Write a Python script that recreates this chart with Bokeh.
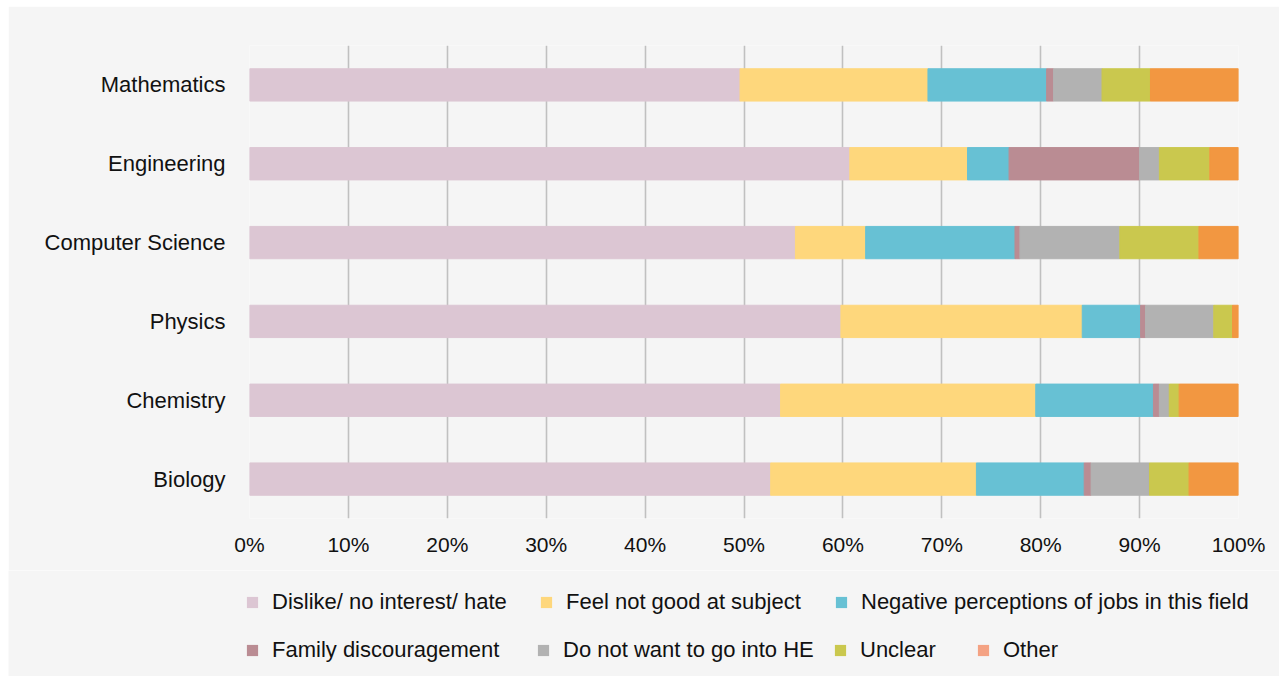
from bokeh.plotting import figure
from bokeh.layouts import column
from bokeh.models import (ColumnDataSource, FactorRange, Range1d, FixedTicker,
                          PrintfTickFormatter, Legend, LegendItem)
from bokeh.embed import file_html
from bokeh.resources import INLINE

# ---------------- data ----------------
subjects = ["Mathematics", "Engineering", "Computer Science", "Physics", "Chemistry", "Biology"]
dislike = [49.6, 60.7, 55.2, 59.8, 53.7, 52.7]
not_good = [19.0, 11.9, 7.1, 24.4, 25.8, 20.8]
negative_jobs = [12.0, 4.2, 15.1, 5.9, 11.9, 10.9]
family = [0.7, 13.2, 0.5, 0.5, 0.6, 0.7]
no_he = [4.9, 2.0, 10.1, 6.9, 1.0, 5.9]
unclear = [4.9, 5.1, 8.0, 1.9, 1.0, 4.0]
other = [8.9, 2.9, 4.0, 0.6, 6.0, 5.0]

series_names = ["Dislike/ no interest/ hate", "Feel not good at subject",
                "Negative perceptions of jobs in this field", "Family discouragement",
                "Do not want to go into HE", "Unclear", "Other"]
x_ticks = [0, 10, 20, 30, 40, 50, 60, 70, 80, 90, 100]

# ---------------- styles ----------------
bar_colors = ["#dcc6d3", "#fed77c", "#67c1d4", "#ba8c93", "#b2b2b2", "#cac84e", "#f29741"]
legend_colors = ["#dcc6d3", "#fed77c", "#67c1d4", "#ba8c93", "#b2b2b2", "#cac84e", "#f4a283"]
FONT = "Liberation Sans"
BG = "#f5f5f5"

keys = ["dislike", "not_good", "negative_jobs", "family", "no_he", "unclear", "other"]
source = ColumnDataSource(dict(subject=subjects, dislike=dislike, not_good=not_good,
                               negative_jobs=negative_jobs, family=family, no_he=no_he,
                               unclear=unclear, other=other))

p = figure(width=1271, height=564, output_backend="svg", toolbar_location=None,
           y_range=FactorRange(*subjects[::-1], range_padding=0),
           x_range=Range1d(0, 100),
           background_fill_color=BG, border_fill_color=BG,
           min_border_left=241, min_border_right=41, min_border_top=39, min_border_bottom=52)
p.margin = (6, 0, 0, 8)
p.outline_line_color = None
p.frame_align = False

p.hbar_stack(keys, y="subject", height=0.41, color=bar_colors, source=source)

# axes
p.xaxis.ticker = FixedTicker(ticks=x_ticks)
p.xaxis.formatter = PrintfTickFormatter(format="%d%%")
for ax in (p.xaxis[0], p.yaxis[0]):
    ax.axis_line_color = None
    ax.major_tick_line_color = None
    ax.minor_tick_line_color = None
    ax.major_tick_out = 0
    ax.major_tick_in = 0
    ax.major_label_text_font = FONT
    ax.major_label_text_color = "#111111"
p.xaxis.major_label_text_font_size = "21px"
p.yaxis.major_label_text_font_size = "22px"
p.xaxis.major_label_standoff = 14
p.yaxis.major_label_standoff = 24

p.ygrid.grid_line_color = None
p.xgrid.ticker = FixedTicker(ticks=x_ticks)
p.xgrid.grid_line_color = "#c0c0c0"
p.xgrid.grid_line_width = 1.6

# legend panel (separate figure, legends inside its frame)
lf = figure(width=1271, height=106, output_backend="svg", toolbar_location=None,
            x_range=Range1d(0, 1), y_range=Range1d(0, 1),
            x_axis_type=None, y_axis_type=None,
            background_fill_color=BG, border_fill_color=BG,
            min_border_left=0, min_border_right=0, min_border_top=0, min_border_bottom=0)
lf.margin = (0, 0, 0, 8)
lf.outline_line_color = None
lf.frame_align = False
lf.xgrid.visible = False
lf.ygrid.visible = False

legend_pos = [(237, 61), (531, 61), (826, 61),
              (237, 13), (528, 13), (825, 13), (968, 13)]
for name, col, loc in zip(series_names, legend_colors, legend_pos):
    # zero-size swatch carrier: only its legend glyph is seen
    r = lf.rect(x=[0.5], y=[0.5], width=0, height=0, fill_color=col, line_color=None)
    lg = Legend(items=[LegendItem(label=name, renderers=[r])], location=loc,
                orientation="horizontal", glyph_width=14, glyph_height=14,
                label_standoff=13, padding=0, margin=0, spacing=0,
                label_text_font=FONT, label_text_font_size="22px",
                label_text_color="#111111",
                border_line_color=None, background_fill_alpha=0)
    lf.add_layout(lg, "center")

layout = column(p, lf, spacing=0)
open("out.html", "w").write(file_html(layout, INLINE))
